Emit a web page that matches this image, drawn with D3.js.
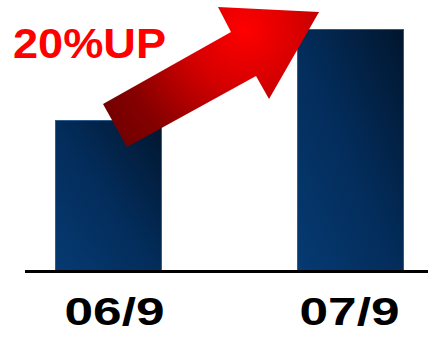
<!DOCTYPE html>
<html><head><meta charset="utf-8">
<script src="https://cdn.jsdelivr.net/npm/d3@7"></script>
<style>html,body{margin:0;padding:0;background:#fff;}svg{display:block;}</style>
</head><body>
<script>
const categories = ["06/9", "07/9"];
const values = [150, 241];
const annotation = "20%UP";

const W = 428, H = 337;
const svg = d3.select("body").append("svg").attr("width", W).attr("height", H);
const defs = svg.append("defs");

const bg = defs.append("linearGradient").attr("id","barGrad")
  .attr("x1","0").attr("y1","1").attr("x2","1").attr("y2","0");
bg.append("stop").attr("offset","0").attr("stop-color","#063a72");
bg.append("stop").attr("offset","0.5").attr("stop-color","#032c5a");
bg.append("stop").attr("offset","1").attr("stop-color","#01162e");

const ag = defs.append("radialGradient").attr("id","arrowGrad")
  .attr("gradientUnits","userSpaceOnUse")
  .attr("cx",245).attr("cy",30).attr("r",170);
ag.append("stop").attr("offset","0").attr("stop-color","#ff0000");
ag.append("stop").attr("offset","0.35").attr("stop-color","#d40000");
ag.append("stop").attr("offset","0.75").attr("stop-color","#860000");
ag.append("stop").attr("offset","1").attr("stop-color","#700000");

const x = d3.scaleBand().domain(categories).range([28, 431]).paddingInner(0.558).paddingOuter(0.1116);
const y = d3.scaleLinear().domain([0, 241]).range([270, 29]);

svg.selectAll("rect.bar").data(categories).join("rect")
  .attr("class","bar")
  .attr("x", d => x(d) + 0.5)
  .attr("y", (d,i) => y(values[i]) + 0.5)
  .attr("width", x.bandwidth() - 1)
  .attr("height", (d,i) => y(0) - y(values[i]))
  .attr("fill","url(#barGrad)")
  .attr("stroke","#2c5d8f").attr("stroke-width",1);

// baseline
svg.append("line").attr("x1",25).attr("x2",428).attr("y1",y(0)+1.5).attr("y2",y(0)+1.5)
  .attr("stroke","#000").attr("stroke-width",3);

// axis labels
const axis = svg.append("g").attr("transform",`translate(0,${y(0)})`)
  .call(d3.axisBottom(x).tickSize(0).tickPadding(0));
axis.select(".domain").remove();
axis.selectAll("text")
  .attr("y", 55).attr("dy", 0)
  .attr("dx", (d,i) => i === 0 ? 6 : -1)
  .attr("font-family","'Liberation Sans', Arial, sans-serif")
  .attr("font-weight","bold").attr("font-size",39)
  .attr("fill","#000")
  .attr("textLength",100).attr("lengthAdjust","spacingAndGlyphs");

// arrow annotation anchored to bar positions
const b1 = x(categories[0]), b2 = x(categories[1]);
const t1 = y(values[0]), t2 = y(values[1]);
const arrowPts = [
  [b1 + 72, t1 + 27],
  [b1 + 48, t1 - 16],
  [b1 + 176, t2 + 3],
  [b1 + 163, t2 - 22],
  [b2 + 22, t2 - 17],
  [b2 - 28, t2 + 70],
  [b1 + 201, t2 + 47]
];
svg.append("polygon")
  .attr("points", arrowPts.map(p => p.join(",")).join(" "))
  .attr("fill","url(#arrowGrad)");

svg.append("text").attr("x",13).attr("y",58)
  .attr("font-family","'Liberation Sans', Arial, sans-serif")
  .attr("font-weight","bold").attr("font-size",43)
  .attr("fill","#ff0000")
  .attr("textLength",153).attr("lengthAdjust","spacingAndGlyphs")
  .text(annotation);
</script>
</body></html>
